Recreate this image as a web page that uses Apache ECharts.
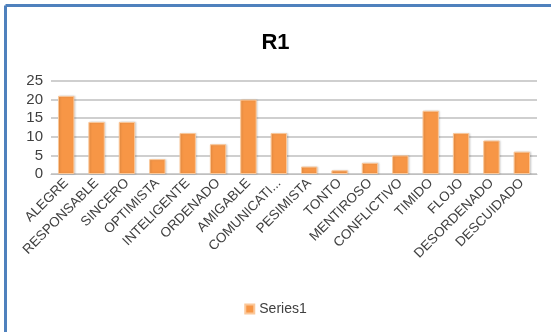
<!DOCTYPE html>
<html><head><meta charset="utf-8">
<script src="https://cdn.jsdelivr.net/npm/echarts@6/dist/echarts.min.js"></script>
<style>html,body{margin:0;padding:0;background:#fff}#c{width:551px;height:332px}</style>
</head><body><div id="c"></div>
<script>
var categories = ["ALEGRE","RESPONSABLE","SINCERO","OPTIMISTA","INTELIGENTE","ORDENADO","AMIGABLE","COMUNICATI...","PESIMISTA","TONTO","MENTIROSO","CONFLICTIVO","TIMIDO","FLOJO","DESORDENADO","DESCUIDADO"];
var series1 = [21,14,14,4,11,8,20,11,2,1,3,5,17,11,9,6];
var yTicks = [0,5,10,15,20,25];
var chart = echarts.init(document.getElementById('c'));
var font = 'Liberation Sans';
chart.setOption({
  animation: false,
  title: {text: 'R1', left: 'center', top: 27, textStyle: {fontFamily: font, fontSize: 22, fontWeight: 'bold', color: '#000'}},
  graphic: [
    {type: 'line', shape: {x1: 5.5, y1: 5.5, x2: 551, y2: 5.5}, style: {stroke: '#4f81bd', lineWidth: 3}},
    {type: 'line', shape: {x1: 5.5, y1: 5.5, x2: 5.5, y2: 332}, style: {stroke: '#4f81bd', lineWidth: 3}}
  ],
  legend: {data: ['Series1'], left: 'center', top: 297, itemWidth: 9, itemHeight: 9, itemGap: 6, icon: 'rect', textStyle: {fontFamily: font, fontSize: 14, color: '#404040'}},
  grid: {left: 51, right: 14, top: 81, bottom: 158, containLabel: false},
  xAxis: {type: 'category', data: categories,
    axisLine: {lineStyle: {color: '#bfbfbf'}}, axisTick: {show: false},
    axisLabel: {rotate: 45, interval: 0, margin: 7, fontFamily: font, fontSize: 13.5, color: '#404040'}},
  yAxis: {type: 'value', min: 0, max: 25, interval: 5,
    axisLabel: {fontFamily: font, fontSize: 15, color: '#404040', margin: 8,
      formatter: function(v){ return yTicks.indexOf(v) >= 0 ? String(v) : ''; }},
    axisLine: {show: false}, axisTick: {show: false},
    splitLine: {lineStyle: {color: '#bfbfbf', width: 1.5}}},
  series: [{name: 'Series1', type: 'bar', data: series1, barWidth: '54%',
    itemStyle: {color: '#f79646', borderColor: '#fbc89a', borderWidth: 1, shadowColor: 'rgba(0,0,0,0.15)', shadowBlur: 2, shadowOffsetX: 1}}]
});
</script></body></html>
